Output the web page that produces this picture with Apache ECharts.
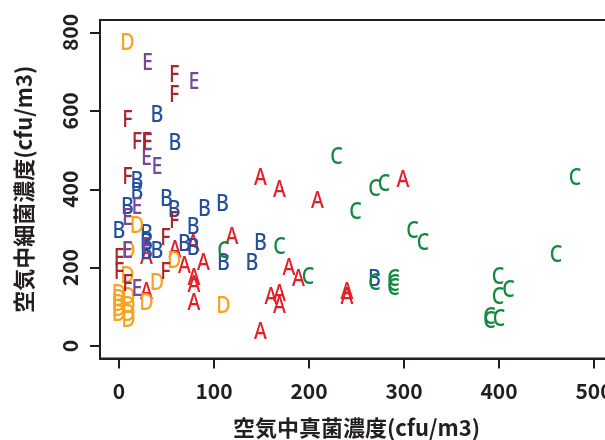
<!DOCTYPE html>
<html>
<head>
<meta charset="utf-8">
<script src="https://cdn.jsdelivr.net/npm/echarts@6/dist/echarts.min.js"></script>
<style>
  html, body { margin: 0; padding: 0; background: #ffffff; }
  #chart { width: 605px; height: 440px; }
</style>
</head>
<body>
<div id="chart"></div>
<script>
// Tick positions on both axes
const xTicks = [0, 100, 200, 300, 400, 500];
const yTicks = [0, 200, 400, 600, 800];

// Sampling points per group: [airborne fungi, airborne bacteria] (cfu/m3)
const groupA = [
  [149, 432], [169, 400], [209, 373], [299, 426], [119, 281], [179, 202],
  [189, 173], [160, 126], [169, 135], [169, 105], [149, 37], [240, 140],
  [240, 128], [59, 247], [29, 228], [78, 262], [89, 213], [69, 205],
  [79, 175], [79, 158], [79, 113], [29, 139]
];
const groupB = [
  [40, 592], [59, 521], [19, 424], [19, 394], [9, 358], [50, 377],
  [58, 349], [90, 353], [109, 364], [0, 296], [29, 287], [29, 264],
  [29, 243], [40, 245], [78, 305], [69, 262], [78, 252], [110, 215],
  [140, 215], [149, 264], [269, 173]
];
const groupC = [
  [229, 485], [269, 403], [279, 415], [249, 343], [309, 296], [320, 266],
  [480, 432], [460, 235], [169, 255], [199, 177], [110, 245], [269, 164],
  [289, 172], [289, 160], [289, 150], [399, 177], [410, 145], [399, 126],
  [390, 75], [390, 65], [400, 72]
];
const groupD = [
  [9, 775], [19, 309], [10, 244], [58, 220], [40, 164], [29, 113],
  [110, 105], [9, 181], [0, 135], [0, 122], [0, 110], [0, 97], [0, 85],
  [10, 126], [10, 105], [10, 85], [10, 68]
];
const groupE = [
  [30, 725], [79, 675], [30, 521], [29, 483], [40, 458], [19, 356],
  [9, 330], [29, 255], [9, 245], [19, 147]
];
const groupF = [
  [58, 695], [58, 643], [9, 579], [19, 524], [29, 524], [9, 434],
  [58, 320], [49, 278], [0, 226], [0, 190], [9, 160], [49, 190]
];

const groups = [
  { letter: 'A', data: groupA, color: '#e41f28' },
  { letter: 'B', data: groupB, color: '#24509f' },
  { letter: 'C', data: groupC, color: '#118a40' },
  { letter: 'D', data: groupD, color: '#f8a21e' },
  { letter: 'E', data: groupE, color: '#77479a' },
  { letter: 'F', data: groupF, color: '#ab242b' }
];

const ink = '#231f20';
const tickFont = '"Noto Sans CJK JP", sans-serif';
const titleFont = '"Noto Sans CJK JP", sans-serif';
const letterFont = '"Noto Sans", "Noto Sans CJK JP", sans-serif';

const chart = echarts.init(document.getElementById('chart'), null, { renderer: 'canvas' });

// Each point is drawn as its group letter, centred on the point and slightly condensed
function letterSeries(g) {
  return {
    type: 'custom',
    name: g.letter,
    data: g.data,
    silent: true,
    clip: false,
    renderItem: function (params, api) {
      const p = api.coord([api.value(0), api.value(1)]);
      return {
        type: 'text',
        x: p[0],
        y: p[1] + 1,
        scaleX: 0.82,
        style: {
          text: g.letter,
          fill: g.color,
          fontFamily: letterFont,
          fontSize: 24,
          fontWeight: 500,
          align: 'center',
          verticalAlign: 'middle'
        }
      };
    }
  };
}

chart.setOption({
  animation: false,
  backgroundColor: '#ffffff',
  grid: {
    left: 100, top: 20, width: 513, height: 338.5,
    outerBoundsMode: 'none',
    containLabel: false,
    show: true, borderColor: ink, borderWidth: 2, backgroundColor: 'transparent'
  },
  xAxis: {
    type: 'value', min: -20, max: 520,
    name: '空気中真菌濃度(cfu/m3)',
    nameLocation: 'middle', nameGap: 58,
    nameTextStyle: { fontFamily: titleFont, fontSize: 22, fontWeight: 'bold', color: ink },
    axisLine: { show: true, onZero: false, lineStyle: { color: ink, width: 2 } },
    axisTick: { show: true, length: 10, customValues: xTicks, lineStyle: { color: ink, width: 2 } },
    axisLabel: {
      customValues: xTicks, margin: 22,
      fontFamily: tickFont, fontSize: 21, fontWeight: 'bold', color: ink
    },
    splitLine: { show: false }
  },
  yAxis: {
    type: 'value', min: -32, max: 832,
    name: '空気中細菌濃度(cfu/m3)',
    nameLocation: 'middle', nameGap: 65,
    nameTextStyle: { fontFamily: titleFont, fontSize: 22, fontWeight: 'bold', color: ink },
    axisLine: { show: true, onZero: false, lineStyle: { color: ink, width: 2 } },
    axisTick: { show: true, length: 10, customValues: yTicks, lineStyle: { color: ink, width: 2 } },
    axisLabel: {
      customValues: yTicks, rotate: 90, margin: 19,
      fontFamily: tickFont, fontSize: 21, fontWeight: 'bold', color: ink
    },
    splitLine: { show: false }
  },
  series: groups.map(letterSeries)
});
</script>
</body>
</html>
